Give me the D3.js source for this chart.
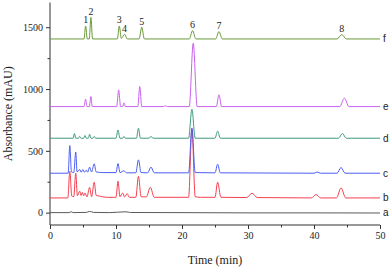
<!DOCTYPE html>
<html>
<head>
<meta charset="utf-8">
<script src="https://d3js.org/d3.v7.min.js"></script>
<style>
  body { margin: 0; background: #fff; }
  svg { display: block; }
</style>
</head>
<body>
<div id="chart"></div>
<script>
// chromatogram traces: [time (min), absorbance above baseline (mAU)]
const traceNames = ["a", "b", "c", "d", "e", "f"];
const traceOffsets = [0, 119, 319, 602, 858, 1405];
const traceColors = ["#5a5a5a", "#f4404f", "#4b5ff2", "#3f9a80", "#c762ef", "#6b9b3a"];

const traceA = [[0,0],[2.9,0],[3.2,8],[3.5,0],[5.5,2],[6.0,10],[6.6,2],[9,0],[11.5,7],[12.2,1],[20,0],[30,-2],[40,-2],[50,-3]];
const traceB = [[0,0],[2.7,0],[3.0,215],[3.3,15],[3.6,10],[3.9,200],[4.15,18],[4.5,55],[4.7,20],[4.9,45],[5.1,18],[5.3,40],[5.6,8],[6.0,85],[6.3,10],[6.7,127],[7.0,20],[7.5,15],[8.5,5],[10.0,5],[10.3,135],[10.6,10],[11.0,40],[11.3,8],[11.7,35],[12.0,5],[13.0,5],[13.4,175],[13.8,10],[14.6,8],[15.2,86],[15.8,5],[21.0,5],[21.5,560],[22.0,10],[22.8,5],[25.0,5],[25.4,127],[25.9,5],[29.8,3],[30.6,38],[31.4,3],[39.6,0],[40.3,27],[41.0,0],[43.4,0],[44.1,81],[44.8,0],[50,0]];
const traceC = [[0,0],[2.75,0],[3.0,224],[3.25,10],[3.6,5],[3.9,170],[4.1,10],[4.5,30],[4.7,8],[5.0,30],[5.2,8],[5.5,25],[5.7,8],[6.0,49],[6.3,10],[6.7,76],[7.0,10],[8.0,5],[10.0,5],[10.3,78],[10.6,5],[11.2,20],[11.6,3],[13.0,3],[13.4,108],[13.8,5],[14.8,3],[15.3,49],[15.8,3],[21.0,3],[21.5,364],[22.0,5],[25.0,3],[25.4,73],[25.8,3],[40.0,0],[40.5,10],[41.0,0],[43.5,0],[44.1,46],[44.7,0],[50,0]];
const traceD = [[0,0],[3.5,0],[3.7,38],[3.9,0],[4.3,0],[4.5,15],[4.7,0],[5.1,0],[5.3,22],[5.5,0],[5.8,0],[6.0,32],[6.2,0],[6.5,0],[6.7,15],[6.9,0],[10.0,0],[10.3,67],[10.6,0],[11.0,0],[11.2,15],[11.4,0],[13.1,0],[13.4,81],[13.7,0],[15.0,0],[15.3,15],[15.6,0],[21.0,0],[21.5,235],[22.0,0],[25.0,0],[25.4,57],[25.8,0],[43.7,0],[44.3,38],[44.9,0],[50,0]];
const traceE = [[0,0],[5.15,0],[5.4,60],[5.6,0],[5.95,0],[6.2,81],[6.4,0],[10.1,0],[10.4,135],[10.7,0],[11.0,0],[11.2,30],[11.45,0],[13.3,0],[13.6,162],[13.9,0],[17.2,0],[17.5,6],[17.8,0],[21.1,0],[21.7,512],[22.3,0],[25.2,0],[25.6,95],[26.0,0],[43.9,0],[44.6,68],[45.3,0],[50,0]];
const traceF = [[0,0],[5.15,0],[5.4,105],[5.65,0],[5.95,0],[6.2,175],[6.45,0],[10.2,0],[10.5,105],[10.8,5],[11.3,38],[11.7,0],[13.5,0],[13.9,95],[14.3,0],[21.1,0],[21.6,67],[22.1,0],[25.1,0],[25.6,60],[26.1,0],[43.5,0],[44.2,35],[44.9,0],[50,0]];
const traces = [traceA, traceB, traceC, traceD, traceE, traceF];

// peak numbers marked on trace f
const peakLabels = ["1", "2", "3", "4", "5", "6", "7", "8"];
const peakTimes = [5.4, 6.2, 10.5, 11.3, 13.9, 21.6, 25.6, 44.2];

const xTicks = [0, 10, 20, 30, 40, 50];
const yTicks = [0, 500, 1000, 1500];

const width = 389, height = 267;
const margin = {left: 50, right: 9, top: 2.5, bottom: 42};

const svg = d3.select("#chart").append("svg")
  .attr("width", width)
  .attr("height", height);

const x = d3.scaleLinear().domain([0, 50]).range([margin.left, width - margin.right]);
const y = d3.scaleLinear().domain([-100, 1700]).range([height - margin.bottom, margin.top]);

const serif = "Liberation Serif, Times New Roman, serif";
const axisColor = "#333";

// x axis: major + minor ticks
const xAxis = svg.append("g")
  .attr("transform", `translate(0,${y(-100)})`)
  .call(d3.axisBottom(x).tickValues(xTicks).tickFormat(d3.format("d")).tickSize(4).tickPadding(3));
svg.append("g")
  .attr("transform", `translate(0,${y(-100)})`)
  .call(d3.axisBottom(x).tickValues(d3.range(5, 50, 10)).tickSize(2.5).tickFormat(""))
  .call(g => g.select(".domain").remove());

const yAxis = svg.append("g")
  .attr("transform", `translate(${x(0)},0)`)
  .call(d3.axisLeft(y).tickValues(yTicks).tickFormat(d3.format("d")).tickSize(4).tickPadding(3));
svg.append("g")
  .attr("transform", `translate(${x(0)},0)`)
  .call(d3.axisLeft(y).tickValues([250, 750, 1250]).tickSize(2.5).tickFormat(""))
  .call(g => g.select(".domain").remove());

svg.selectAll(".domain").attr("stroke", axisColor);
xAxis.select(".domain").attr("d", `M${x(0)},0H${x(50)}`);
yAxis.select(".domain").attr("d", `M0,${y(-100)}V${y(1700)}`);
svg.selectAll(".tick line").attr("stroke", axisColor);
svg.selectAll("g").attr("font-family", serif);
svg.selectAll(".tick text")
  .attr("font-size", 10)
  .attr("fill", "#222");

// traces
const line = d3.line()
  .x(d => x(d[0]))
  .curve(d3.curveMonotoneX);

traces.forEach((pts, i) => {
  svg.append("path")
    .datum(pts)
    .attr("fill", "none")
    .attr("stroke", traceColors[i])
    .attr("stroke-width", 1)
    .attr("d", line.y(d => y(traceOffsets[i] + d[1])));

  svg.append("text")
    .attr("x", x(50) + 3)
    .attr("y", y(traceOffsets[i]))
    .attr("dy", "0.35em")
    .attr("font-family", "Liberation Sans, Arial, sans-serif")
    .attr("font-size", 10)
    .attr("fill", "#222")
    .text(traceNames[i]);
});

// peak numbers on top trace
const fIndex = traceNames.indexOf("f");
svg.append("g")
  .selectAll("text")
  .data(peakLabels)
  .join("text")
    .attr("x", (d, i) => x(peakTimes[i]))
    .attr("y", (d, i) => {
      const p = traces[fIndex].find(q => q[0] === peakTimes[i]);
      return y(traceOffsets[fIndex] + p[1]) - 2.5;
    })
    .attr("text-anchor", "middle")
    .attr("font-family", serif)
    .attr("font-size", 10)
    .attr("fill", "#222")
    .text(d => d);

// axis titles
svg.append("text")
  .attr("x", (x(0) + x(50)) / 2)
  .attr("y", 264)
  .attr("text-anchor", "middle")
  .attr("font-family", serif)
  .attr("font-size", 12)
  .attr("fill", "#222")
  .text("Time (min)");

svg.append("text")
  .attr("transform", `translate(12,${y(800)}) rotate(-90)`)
  .attr("text-anchor", "middle")
  .attr("font-family", serif)
  .attr("font-size", 12)
  .attr("fill", "#222")
  .text("Absorbance (mAU)");
</script>
</body>
</html>
